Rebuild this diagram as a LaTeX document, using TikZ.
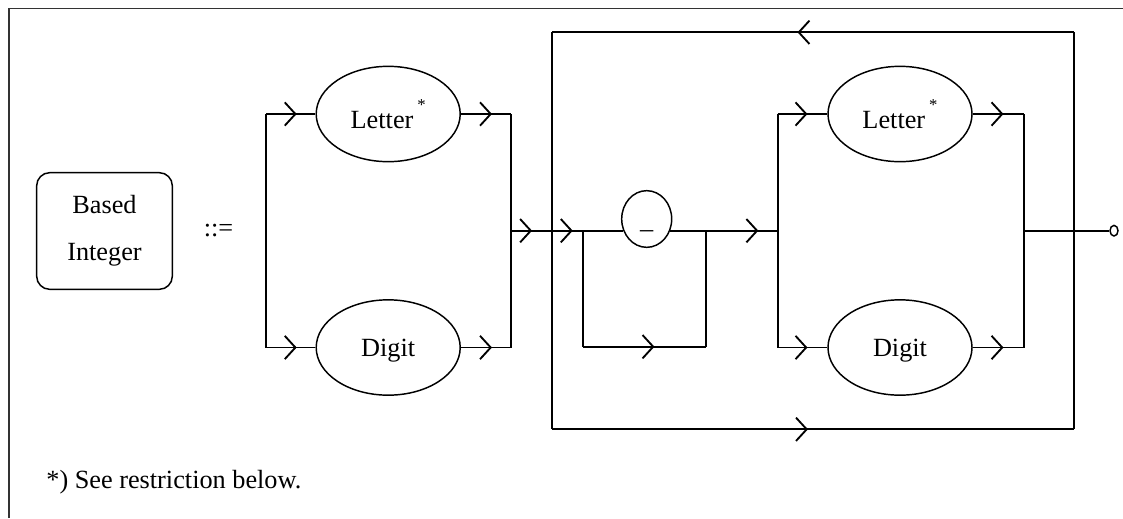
\documentclass[tikz,border=0pt]{standalone}
\usepackage{fontspec}
\setmainfont{Liberation Serif}
\usetikzlibrary{arrows.meta,decorations.markings,shapes.geometric}
\tikzset{
  mid/.style={postaction={decorate,decoration={markings,mark=at position #1 with {\arrow{Straight Barb[length=8pt,width=17.5pt]}}}}},
  term/.style={draw,ellipse,line width=1.1pt,minimum width=108pt,minimum height=71.5pt,inner sep=0pt,text depth=0pt},
}
\newcommand{\fnstar}{\hspace{3pt}\raisebox{13pt}{\fontsize{12.5}{12.5}\selectfont *}}
\begin{document}
\begin{tikzpicture}[x=0.75pt,y=-0.75pt,line width=1.4pt,font=\fontsize{19.7}{35}\selectfont]
	\useasboundingbox (0,0) rectangle (1123,518);
	\draw[line width=1.2pt,black!80] (9,518) -- (9,8.3) -- (1123,8.3);
	\node (BI) at (104.5,231) [draw,rounded corners=9.75pt,line width=1.1pt,minimum width=101.7pt,minimum height=87.5pt,align=center] {Based\\Integer};
	\node (Def) at (218.5,236) [anchor=base] {::=};
	\node (L1) at (388.2,114) [term] {Letter\fnstar};
	\node (D1) at (388.2,347.5) [term] {Digit};
	\node (Us) at (646.7,219) [draw,ellipse,line width=1.1pt,minimum width=37.5pt,minimum height=42.5pt,inner sep=0pt,text height=13.5pt,text depth=0pt] {\_};
	\node (L2) at (900,114) [term] {Letter\fnstar};
	\node (D2) at (900,347.5) [term] {Digit};
	\node (End) at (1114,230.7) [draw,ellipse,line width=1.1pt,minimum width=6pt,minimum height=8pt,inner sep=0pt] {};
	\node (Note) at (41,488.3) [anchor=base west] {*) See restriction below.};
	\coordinate (A1) at (266,114);
	\coordinate (A2) at (266,347.5);
	\coordinate (B1) at (511,114);
	\coordinate (B2) at (511,347.5);
	\coordinate (Bo) at (511,230.7);
	\coordinate (Li) at (552.3,230.7);
	\coordinate (LT1) at (552.3,32.3);
	\coordinate (LT2) at (1074,32.3);
	\coordinate (LB1) at (552.3,429.3);
	\coordinate (LB2) at (1074,429.3);
	\coordinate (S1) at (583.3,230.7);
	\coordinate (S2) at (706,230.7);
	\coordinate (S3) at (583.3,346.7);
	\coordinate (S4) at (706,346.7);
	\coordinate (C1) at (777.7,114);
	\coordinate (C2) at (777.7,347.5);
	\coordinate (Ci) at (777.7,230.7);
	\coordinate (E1) at (1024,114);
	\coordinate (E2) at (1024,347.5);
	\coordinate (Eo) at (1024,230.7);
	\draw (A1) -- (A2);
	\draw (B1) -- (B2);
	\draw[mid=0.62] (A1) -- (L1);
	\draw[mid=0.62] (L1) -- (B1);
	\draw[mid=0.62] (A2) -- (D1);
	\draw[mid=0.62] (D1) -- (B2);
	\draw[mid=0.51] (Bo) -- (Li);
	\draw[mid=0.66] (Li) -- (S1);
	\draw (S1) -- (S1 -| Us.207);
	\draw (S2 -| Us.333) -- (S2);
	\draw (S1) -- (S3);
	\draw[mid=0.58] (S3) -- (S4);
	\draw (S4) -- (S2);
	\draw[mid=0.73] (S2) -- (Ci);
	\draw (C1) -- (C2);
	\draw (E1) -- (E2);
	\draw[mid=0.6] (C1) -- (L2);
	\draw[mid=0.6] (L2) -- (E1);
	\draw[mid=0.6] (C2) -- (D2);
	\draw[mid=0.6] (D2) -- (E2);
	\draw (Eo) -- (End);
	\draw (LT1) -- (LB1);
	\draw (LT2) -- (LB2);
	\draw[mid=0.53] (LT2) -- (LT1);
	\draw[mid=0.49] (LB1) -- (LB2);
\end{tikzpicture}
\end{document}
